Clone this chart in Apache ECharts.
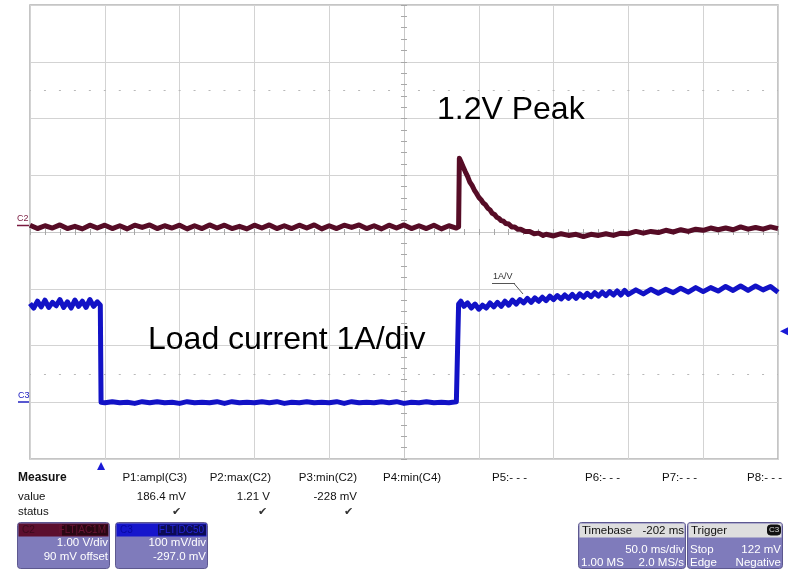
<!DOCTYPE html>
<html><head><meta charset="utf-8">
<script src="https://cdn.jsdelivr.net/npm/echarts@6/dist/echarts.min.js"></script>
<style>html,body{margin:0;padding:0;background:#fff}#c{width:789px;height:570px}</style>
</head><body><div id="c"></div>
<script>
// ---- data (time in ms across the screen, 50 ms/div; values in volts) ----
const c2Trace = [
 [0,0.03],[5,-0.03],[10,0.02],[15,-0.02],[20,0.035],[25,-0.03],[30,0.01],[35,-0.035],[40,0.03],[45,-0.02],
 [50,0.03],[55,-0.03],[60,0.02],[65,-0.035],[70,0.03],[75,-0.01],[80,0.035],[85,-0.03],[90,0.02],[95,-0.02],
 [100,0.03],[105,-0.035],[110,0.02],[115,-0.03],[120,0.035],[125,-0.02],[130,0.03],[135,-0.03],[140,0.01],[145,-0.035],
 [150,0.03],[155,-0.02],[160,0.035],[165,-0.03],[170,0.02],[175,-0.03],[180,0.03],[185,-0.02],[190,0.035],[195,-0.035],
 [200,0.02],[205,-0.03],[210,0.03],[215,-0.01],[220,0.035],[225,-0.03],[230,0.02],[235,-0.035],[240,0.03],[245,-0.02],
 [250,0.035],[255,-0.03],[260,0.02],[265,-0.03],[270,0.03],[275,-0.035],[280,0.02],[285,-0.02],[286.5,0.0],
 [287,1.21],[288,1.15],[289.5,1.06],[291,0.97],[292.5,0.89],[294,0.79],[295.5,0.73],[297,0.65],[298.5,0.59],[300,0.52],
 [301.5,0.48],[303,0.42],[304.5,0.39],[306,0.33],[307.5,0.30],[309,0.24],[310.5,0.22],[312,0.17],[313.5,0.15],[315,0.11],
 [316.5,0.10],[318,0.06],[320,0.05],[322,0.0],[324,0.0],[326,-0.04],[328,-0.04],[331,-0.08],[334,-0.08],[337,-0.12],
 [340,-0.11],[343,-0.15],[345,-0.13],[350,-0.16],[355,-0.12],[360,-0.15],[365,-0.13],[370,-0.17],[375,-0.13],[380,-0.15],
 [385,-0.12],[390,-0.15],[395,-0.11],[400,-0.12],[405,-0.08],[410,-0.11],[415,-0.08],[420,-0.1],[425,-0.06],[430,-0.09],
 [435,-0.05],[440,-0.08],[445,-0.04],[450,-0.06],[455,-0.02],[460,-0.05],[465,-0.02],[470,-0.05],[475,0.0],[480,-0.04],
 [485,-0.01],[490,-0.04],[495,0.0],[500,-0.03]
];
const c3Trace = [
 [0,0.171],[2.5,0.163],[5,0.175],[7.5,0.165],[10,0.177],[12.5,0.164],[15,0.173],[17.5,0.167],[20,0.178],[22.5,0.164],
 [25,0.174],[27.5,0.163],[30,0.177],[32.5,0.166],[35,0.175],[37.5,0.164],[40,0.178],[42.5,0.166],[45,0.174],[47,0.168],
 [47.5,-0.003],
 [50,-0.004],[55,-0.002],[60,-0.004],[65,-0.003],[70,-0.005],[75,-0.002],[80,-0.004],[85,-0.002],[90,-0.004],[95,-0.003],
 [100,-0.005],[105,-0.002],[110,-0.004],[115,-0.003],[120,-0.004],[125,-0.002],[130,-0.005],[135,-0.002],[140,-0.004],[145,-0.003],
 [150,-0.004],[155,-0.002],[160,-0.004],[165,-0.002],[170,-0.005],[175,-0.003],[180,-0.004],[185,-0.002],[190,-0.004],[195,-0.003],
 [200,-0.004],[205,-0.002],[210,-0.005],[215,-0.002],[220,-0.004],[225,-0.003],[230,-0.004],[235,-0.002],[240,-0.004],[245,-0.002],
 [250,-0.005],[255,-0.003],[260,-0.004],[265,-0.002],[270,-0.004],[275,-0.003],[280,-0.004],[285,-0.002],[286,-0.003],
 [286.5,0.17],[288,0.175],[290,0.166],[292.5,0.172],[295,0.163],[297.5,0.17],[300,0.161],[302.5,0.168],[305,0.163],[307.5,0.172],
 [310,0.165],[312.5,0.173],[315,0.166],[317.5,0.175],[320,0.168],[322.5,0.177],[325,0.17],[327.5,0.178],[330,0.172],[332.5,0.18],
 [335,0.173],[337.5,0.181],[340,0.175],[342.5,0.182],[345,0.176],[347.5,0.184],[350,0.178],[352.5,0.185],[355,0.179],[357.5,0.186],
 [360,0.18],[362.5,0.187],[365,0.18],[367.5,0.188],[370,0.182],[372.5,0.189],[375,0.183],[377.5,0.19],[380,0.184],[382.5,0.191],
 [385,0.185],[387.5,0.192],[390,0.186],[392.5,0.193],[395,0.186],[397.5,0.194],[400,0.187],[405,0.195],[410,0.188],[415,0.196],
 [420,0.189],[425,0.196],[430,0.19],[435,0.198],[440,0.191],[445,0.199],[450,0.192],[455,0.199],[460,0.193],[465,0.201],
 [470,0.194],[475,0.202],[480,0.194],[485,0.202],[490,0.195],[495,0.201],[500,0.191]
];
const triggerTime = 47.5;      // ms on screen
const triggerLevel = 0.122;    // V on C3
const c2Range = [-4.09, 3.91]; // 1.00 V/div, 90 mV offset
const c3Range = [-0.103, 0.697]; // 100 mV/div, -297.0 mV offset
const divRange = [-4, 4];
const timeRange = [0, 500];

const measureHeads = ['P1:ampl(C3)','P2:max(C2)','P3:min(C2)','P4:min(C4)','P5:- - -','P6:- - -','P7:- - -','P8:- - -'];
const measureValues = ['186.4 mV','1.21 V','-228 mV'];
const peakNote = '1.2V Peak';
const loadNote = 'Load current 1A/div';
const probeNote = '1A/V';

// ---- chart ----
const F = '"Liberation Sans", Arial, sans-serif';
const chart = echarts.init(document.getElementById('c'), null, {renderer:'canvas'});
function txt(x,y,t,o){o=o||{};return {type:'text',x:x,y:y,silent:true,z:100,style:{text:t,fill:o.fill||'#111',font:(o.weight?o.weight+' ':'')+(o.size||11.5)+'px '+F,align:o.align||'left',verticalAlign:'middle'}};}
function rect(x,y,w,h,fill,stroke,r){return {type:'rect',silent:true,z:90,shape:{x:x,y:y,width:w,height:h,r:r||0},style:{fill:fill,stroke:stroke||null,lineWidth:1}};}
function line(x1,y1,x2,y2,c,w){return {type:'line',silent:true,z:100,shape:{x1:x1,y1:y1,x2:x2,y2:y2},style:{stroke:c,lineWidth:w||1}};}

const gridCol = '#d3d3d3';
const graphics = [
  txt(437,110,peakNote,{size:32,fill:'#000'}),
  txt(148,340,loadNote,{size:32,fill:'#000'}),
  txt(493,277,probeNote,{size:9,fill:'#333'}),
  line(492,283.5,515,283.5,'#555',1), line(514,283.5,523,294,'#555',1),
  txt(17,219,'C2',{size:9,fill:'#7a1a40'}), line(17,225.5,29,225.5,'#7a1a40',1.5),
  txt(18,396,'C3',{size:9,fill:'#2020c0'}), line(18,402,29,402,'#2020c0',1.5),
  txt(18,478,'Measure',{size:12,weight:'bold'}),
  txt(18,497,'value'), txt(18,512,'status'),
  txt(187,478,measureHeads[0],{align:'right'}),
  txt(271,478,measureHeads[1],{align:'right'}),
  txt(357,478,measureHeads[2],{align:'right'}),
  txt(383,478,measureHeads[3]),
  txt(492,478,measureHeads[4]),
  txt(585,478,measureHeads[5]),
  txt(662,478,measureHeads[6]),
  txt(747,478,measureHeads[7]),
  txt(186,497,measureValues[0],{align:'right'}),
  txt(270,497,measureValues[1],{align:'right'}),
  txt(357,497,measureValues[2],{align:'right'}),
  txt(176,512,'\u2714',{align:'center',size:11,fill:'#333'}),
  txt(262,512,'\u2714',{align:'center',size:11,fill:'#333'}),
  txt(348,512,'\u2714',{align:'center',size:11,fill:'#333'}),
  // C2 box
  rect(17.5,522.5,92,46,'#7f7bbb','#5d5890',3),
  rect(18.5,523.5,90,13,'#5c0f2e'),
  rect(62,524.5,46,11,'#2a0714'),
  txt(22,530,'C2',{size:10,fill:'#3a0a1c'}),
  txt(106,530,'FLT|AC1M',{size:10,fill:'#6a1434',align:'right'}),
  txt(108,543,'1.00 V/div',{align:'right',fill:'#fff',size:11.5}),
  txt(108,557,'90 mV offset',{align:'right',fill:'#fff',size:11.5}),
  // C3 box
  rect(115.5,522.5,92,46,'#7f7bbb','#5d5890',3),
  rect(116.5,523.5,90,13,'#1616cc'),
  rect(158,524.5,48,11,'#0c0c55'),
  txt(120,530,'C3',{size:10,fill:'#0808a0'}),
  txt(204,530,'FLT|DC50',{size:10,fill:'#2424d8',align:'right'}),
  txt(206,543,'100 mV/div',{align:'right',fill:'#fff',size:11.5}),
  txt(206,557,'-297.0 mV',{align:'right',fill:'#fff',size:11.5}),
  // Timebase box
  rect(578.5,522.5,107,46,'#7f7bbb','#5d5890',3),
  rect(579.5,523.5,105,14,'#dedede'),
  txt(582,530.5,'Timebase',{size:11.5,fill:'#111'}),
  txt(684,530.5,'-202 ms',{size:11.5,fill:'#111',align:'right'}),
  txt(684,550,'50.0 ms/div',{align:'right',fill:'#fff',size:11.5}),
  txt(581,563,'1.00 MS',{fill:'#fff',size:11.5}),
  txt(684,563,'2.0 MS/s',{align:'right',fill:'#fff',size:11.5}),
  // Trigger box
  rect(687.5,522.5,95,46,'#7f7bbb','#5d5890',3),
  rect(688.5,523.5,93,14,'#dedede'),
  txt(691,530.5,'Trigger',{size:11.5,fill:'#111'}),
  rect(767.5,525,13,10,'#111','#111',3),
  txt(774,530,'C3',{size:8,fill:'#ddd',align:'center'}),
  txt(690,550,'Stop',{fill:'#fff',size:11.5}),
  txt(781,550,'122 mV',{align:'right',fill:'#fff',size:11.5}),
  txt(690,563,'Edge',{fill:'#fff',size:11.5}),
  txt(781,563,'Negative',{align:'right',fill:'#fff',size:11.5})
];

const hidden = {axisLabel:{show:false}, splitLine:{show:false}};
const option = {
  backgroundColor:'#fff',
  animation:false,
  grid:{left:30, top:5, width:748, height:454, show:true, borderColor:'#b2b2b2', borderWidth:1.5, backgroundColor:'transparent'},
  xAxis:[
    {type:'value', min:timeRange[0], max:timeRange[1], interval:50, axisLine:{show:false,onZero:false}, axisTick:{show:false}, axisLabel:{show:false}, splitLine:{show:true,lineStyle:{color:gridCol,width:1}}},
    Object.assign({type:'value', min:timeRange[0], max:timeRange[1], interval:10, axisLine:{show:true,onZero:true,onZeroAxisIndex:0,lineStyle:{color:'#c8c8c8'}}, axisTick:{show:true,inside:true,length:3,lineStyle:{color:'#a8a8a8'}}}, hidden),
    Object.assign({type:'value', min:timeRange[0], max:timeRange[1], interval:10, axisLine:{show:true,onZero:true,onZeroAxisIndex:0,lineStyle:{color:'#c8c8c8'}}, axisTick:{show:true,inside:false,length:3,lineStyle:{color:'#a8a8a8'}}}, hidden)
  ],
  yAxis:[
    {type:'value', min:divRange[0], max:divRange[1], interval:1, axisLine:{show:false,onZero:false}, axisTick:{show:false}, axisLabel:{show:false}, splitLine:{show:true,lineStyle:{color:gridCol,width:1}}},
    {type:'value', min:c2Range[0], max:c2Range[1], show:false},
    {type:'value', min:c3Range[0], max:c3Range[1], show:false},
    Object.assign({type:'value', min:divRange[0], max:divRange[1], interval:0.2, position:'left', offset:-374, axisLine:{show:true,onZero:false,lineStyle:{color:'#c8c8c8'}}, axisTick:{show:true,inside:true,length:3,lineStyle:{color:'#a8a8a8'}}}, hidden),
    Object.assign({type:'value', min:divRange[0], max:divRange[1], interval:0.2, position:'left', offset:-374, axisLine:{show:true,onZero:false,lineStyle:{color:'#c8c8c8'}}, axisTick:{show:true,inside:false,length:3,lineStyle:{color:'#a8a8a8'}}}, hidden)
  ],
  series:[
    {type:'line', name:'grid-dots', xAxisIndex:0, yAxisIndex:0, data:[], silent:true,
     markLine:{silent:true, symbol:'none', label:{show:false},
       lineStyle:{color:'#b8b8b8', width:1.2, type:[2,12.96], dashOffset:1},
       data:[{yAxis:2.5},{yAxis:-2.5}]}},
    {type:'line', name:'C2', xAxisIndex:0, yAxisIndex:1, data:c2Trace, symbol:'none', silent:true, z:3,
     lineStyle:{color:'#560c26', width:5, join:'round'}},
    {type:'line', name:'C3', xAxisIndex:0, yAxisIndex:2, data:c3Trace, symbol:'none', silent:true, z:4,
     lineStyle:{color:'#1212c6', width:5, join:'round'},
     markPoint:{silent:true, label:{show:false}, itemStyle:{color:'#1a1ad6'},
       data:[
         {coord:[timeRange[1], triggerLevel], symbol:'triangle', symbolRotate:90, symbolSize:[8,8], symbolOffset:[6,0]},
         {coord:[triggerTime, c3Range[0]], symbol:'triangle', symbolSize:[8,8], symbolOffset:[0,7]}
       ]}}
  ],
  graphic:graphics
};
chart.setOption(option);
</script>
</body></html>
